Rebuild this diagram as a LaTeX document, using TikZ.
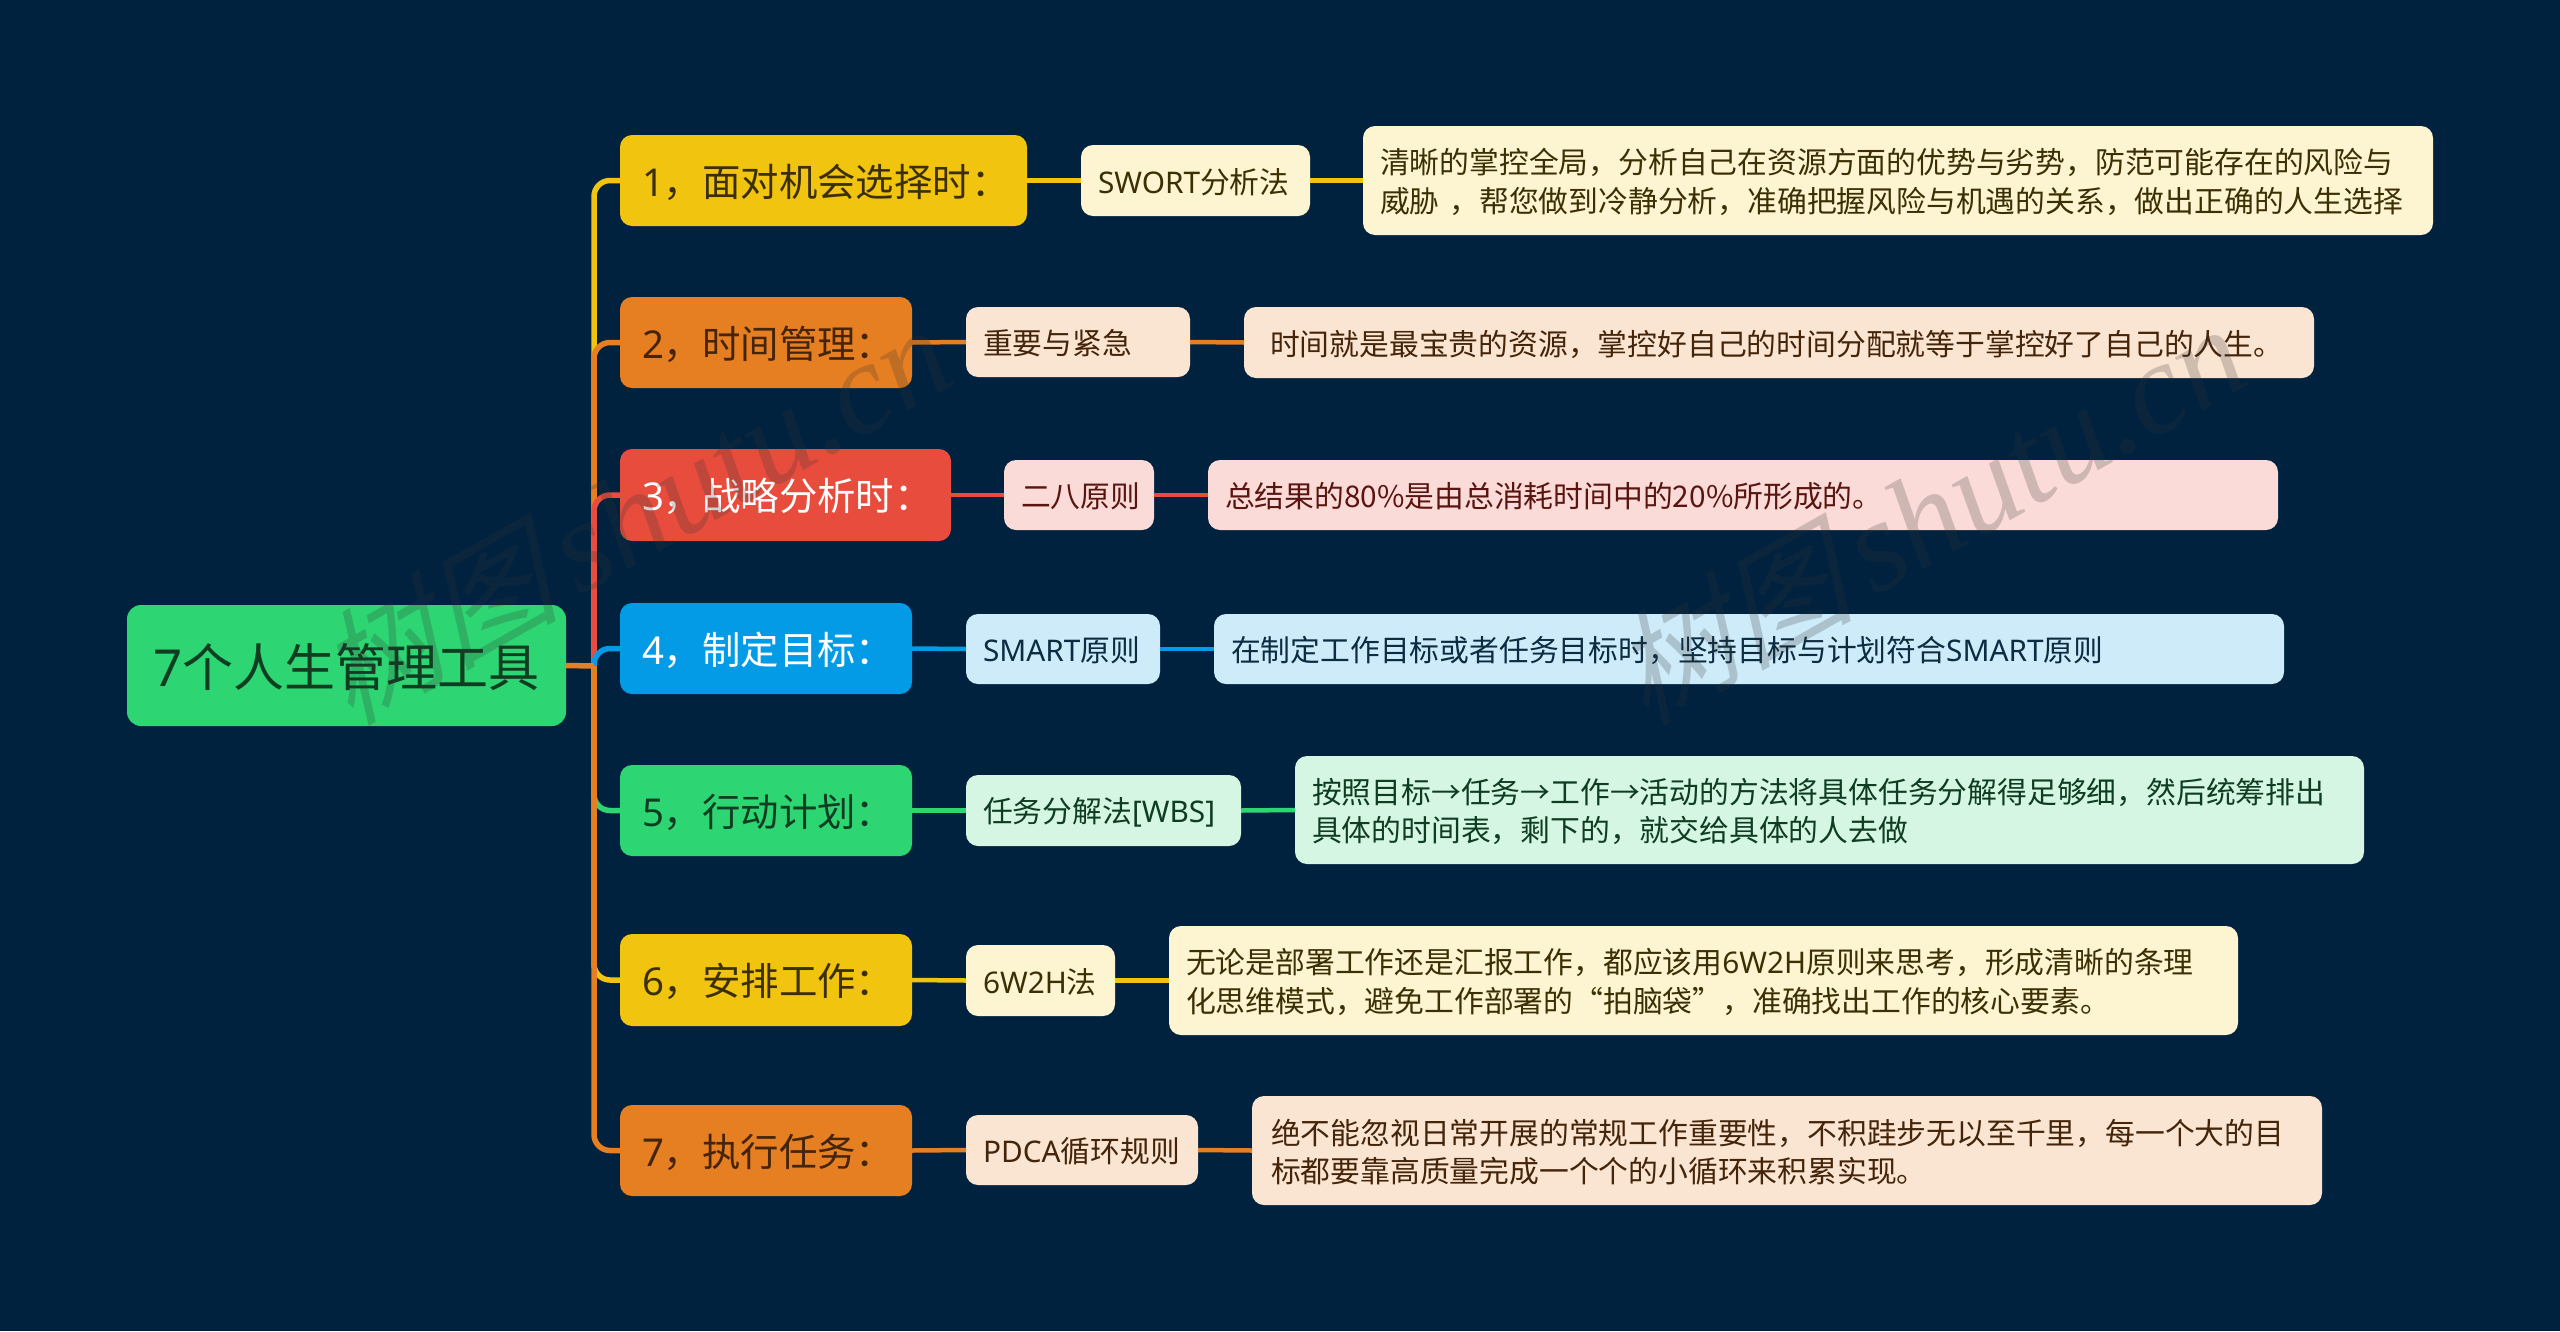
\documentclass[tikz,border=0pt]{standalone}
\usepackage{fontspec}
\setmainfont{Noto Sans CJK SC}
\newfontfamily\wmcjk[FakeSlant=0.3]{Noto Sans CJK SC}
\newfontfamily\wmlat{Liberation Serif}[ItalicFont=* Italic]
\newfontfamily\latf{Noto Sans}
\newcommand\lat[1]{{\latf #1}}
\definecolor{bgc}{HTML}{00223F}
\definecolor{cy}{HTML}{F1C40F}
\definecolor{co}{HTML}{E67E22}
\definecolor{cr}{HTML}{E74C3C}
\definecolor{cb}{HTML}{039BE5}
\definecolor{cg}{HTML}{2ED573}
\definecolor{ty}{HTML}{FDF5D2}
\definecolor{to}{HTML}{FAE5D3}
\definecolor{tr}{HTML}{FADBD8}
\definecolor{tb}{HTML}{CDEBF9}
\definecolor{tg}{HTML}{D5F6E3}
\definecolor{dy}{HTML}{3B2F03}
\definecolor{do}{HTML}{45250A}
\definecolor{dr}{HTML}{5A1510}
\definecolor{db}{HTML}{0C2C42}
\definecolor{dg}{HTML}{0F3D22}
\definecolor{wmc}{HTML}{333333}
\tikzset{
  bx/.style={rounded corners=12pt,inner ysep=0pt,outer sep=0pt,align=left,anchor=center},
  rootbox/.style={bx,rounded corners=14pt,fill=cg,text=dg,font=\fontsize{51}{60}\selectfont},
  top/.style 2 args={bx,fill=#1,text=#2,font=\fontsize{38.4}{48}\selectfont},
  sub/.style 2 args={bx,fill=#1,text=#2,font=\fontsize{29.8}{38.4}\selectfont},
  link/.style={line width=4.5pt},
  branch/.style={line width=5.5pt,rounded corners=16pt},
  wmark/.style={text=wmc,opacity=.22,rotate=29.5,anchor=center,inner sep=0pt}
}
\newcommand\putbox[8]{%
  \pgfmathsetmacro\bw{#4-#2}\pgfmathsetmacro\bh{#5-#3}%
  \pgfmathsetmacro\tw{\bw-2*#6}\pgfmathsetmacro\cx{(#2+#4)/2}\pgfmathsetmacro\cy{(#3+#5)/2}%
  \node[#7,inner xsep=#6 pt,text width=\tw pt,minimum height=\bh pt] (#1) at (\cx,\cy) {#8\vspace{-3pt}};%
}
\newcommand\wmtext{{\fontsize{122}{130}\selectfont\wmcjk 树图}\hspace{20pt}{\fontsize{130}{130}\selectfont\wmlat\itshape shutu.cn}}
\begin{document}
\begin{tikzpicture}[x=1pt,y=-1pt]
\useasboundingbox (0,0) rectangle (2560,1331);
\fill[bgc] (0,0) rectangle (2560,1331);
\putbox{root}{127}{605}{566}{726}{26}{rootbox}{\lat{7}个人生管理工具}
\putbox{a1}{620}{135}{1027}{226}{22}{top={cy}{dy}}{\lat{1}，面对机会选择时：}
\putbox{a2}{620}{297}{912}{388}{22}{top={co}{do}}{\lat{2}，时间管理：}
\putbox{a3}{620}{449}{951}{541}{22}{top={cr}{white}}{\lat{3}，战略分析时：}
\putbox{a4}{620}{603}{912}{694}{22}{top={cb}{white}}{\lat{4}，制定目标：}
\putbox{a5}{620}{765}{912}{856}{22}{top={cg}{dg}}{\lat{5}，行动计划：}
\putbox{a6}{620}{934}{912}{1026}{22}{top={cy}{dy}}{\lat{6}，安排工作：}
\putbox{a7}{620}{1105}{912}{1196}{22}{top={co}{do}}{\lat{7}，执行任务：}
\putbox{b1}{1081}{145}{1310}{216}{17}{sub={ty}{dy}}{\lat{SWORT}分析法}
\putbox{b2}{966}{307}{1190}{377}{17}{sub={to}{do}}{重要与紧急}
\putbox{b3}{1004}{460}{1154}{530}{17}{sub={tr}{dr}}{二八原则}
\putbox{b4}{966}{614}{1160}{684}{17}{sub={tb}{db}}{\lat{SMART}原则}
\putbox{b5}{966}{775}{1241}{846}{17}{sub={tg}{dg}}{任务分解法\lat{[WBS]}}
\putbox{b6}{966}{945}{1115}{1016}{17}{sub={ty}{dy}}{\lat{6W2H}法}
\putbox{b7}{966}{1115}{1198}{1185}{17}{sub={to}{do}}{\lat{PDCA}循环规则}
\putbox{c1}{1363}{126}{2433}{235}{17}{sub={ty}{dy}}{清晰的掌控全局，分析自己在资源方面的优势与劣势，防范可能存在的风险与\\威胁~，帮您做到冷静分析，准确把握风险与机遇的关系，做出正确的人生选择}
\putbox{c2}{1244}{307}{2314}{378}{26}{sub={to}{do}}{时间就是最宝贵的资源，掌控好自己的时间分配就等于掌控好了自己的人生。}
\putbox{c3}{1208}{460}{2278}{530}{17}{sub={tr}{dr}}{总结果的80\%是由总消耗时间中的20\%所形成的。}
\putbox{c4}{1214}{614}{2284}{684}{17}{sub={tb}{db}}{在制定工作目标或者任务目标时，坚持目标与计划符合\lat{SMART}原则}
\putbox{c5}{1295}{756}{2364}{864}{17}{sub={tg}{dg}}{按照目标→任务→工作→活动的方法将具体任务分解得足够细，然后统筹排出\\具体的时间表，剩下的，就交给具体的人去做}
\putbox{c6}{1169}{926}{2238}{1035}{17}{sub={ty}{dy}}{无论是部署工作还是汇报工作，都应该用\lat{6W2H}原则来思考，形成清晰的条理\\化思维模式，避免工作部署的“拍脑袋”，准确找出工作的核心要素。}
\putbox{c7}{1252}{1096}{2322}{1205}{19}{sub={to}{do}}{绝不能忽视日常开展的常规工作重要性，不积跬步无以至千里，每一个大的目\\标都要靠高质量完成一个个的小循环来积累实现。}
\coordinate (hub) at (594,666);
\foreach \n/\c in {1/cy,2/co,3/cr,4/cb,5/cg,6/cy,7/co}{
  \draw[branch,\c] (hub) |- (a\n.west);
  \draw[link,\c] (a\n.east) -- (b\n.west);
  \draw[link,\c] (b\n.east) -- (c\n.west);
}
\draw[link,co,line width=5.5pt] (root.east) -- (hub);
\node[wmark] (wm1) at (632,514) {\wmtext};
\node[wmark] (wm2) at (1927,514) {\wmtext};
\end{tikzpicture}
\end{document}
